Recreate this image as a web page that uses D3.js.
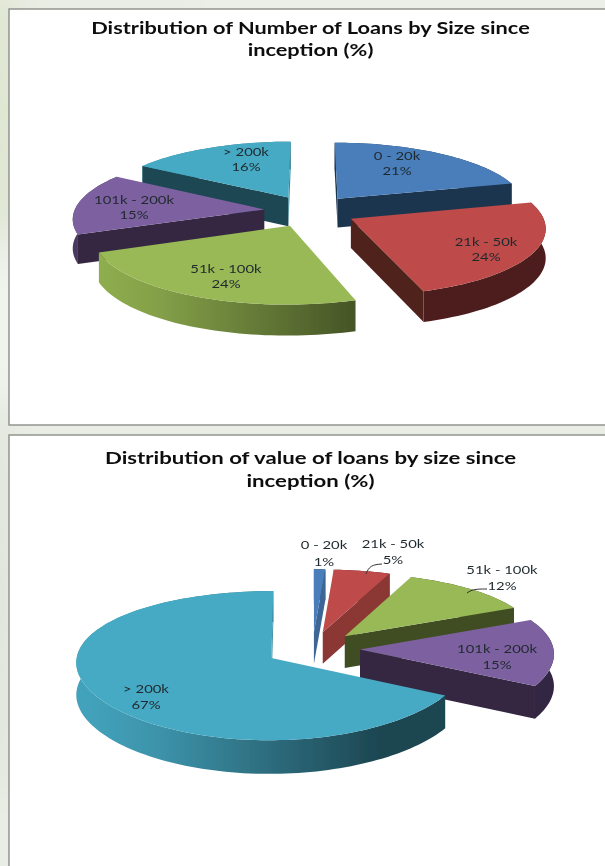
<!DOCTYPE html>
<html><head><meta charset="utf-8">
<script src="https://cdn.jsdelivr.net/npm/d3@7"></script>
<style>html,body{margin:0;padding:0;background:#e9ede5;overflow:hidden}svg{display:block}text{font-family:Lato,"Open Sans",sans-serif;fill:#1f2a2e}</style>
</head><body><svg id="c" width="605" height="866"></svg>
<script>
const categories1 = ["0 - 20k","21k - 50k","51k - 100k","101k - 200k","> 200k"];
const values1 = [21,24,24,15,16];
const categories2 = ["0 - 20k","21k - 50k","51k - 100k","101k - 200k","> 200k"];
const values2 = [1,5,12,15,67];
const sliceColors = ["#4a7ebb","#be4b48","#98b954","#7d60a0","#46aac5"];
const titles1 = ["Distribution of Number of Loans by Size since","inception (%)"];
const titles2 = ["Distribution of value of loans by size since","inception (%)"];

const layout1 = {id:"a",cx:310,cy:211,R:190,k:.345,p:.12,px:1,E:46,depth:29,rimGain:[1,1,1,.62,1],
  panel:[9,9,620,416],titleY:[34,56],titleX:310.5,titleSx:1.28,
  labels:[[397,160,175],[486,246,261],[226,273,288],[134,204,219],[246,156,171]],leaders:[]};
const layout2 = {id:"b",cx:312.5,cy:649,R:193.5,k:.372,p:.10,px:.5,E:47.5,depth:32,rimGain:[1,1,1,1,1],
  panel:[9,435,620,460],titleY:[464,487],titleX:310.5,titleSx:1.305,
  labels:[[324,549,566],[393,548,564],[502,574,590],[497,653,669],[146,693,709]],
  leaders:[[[366,574],[370,565],[382,564]],[[467,593],[473,589],[487,589]]]};

const svg = d3.select("#c");
const defs = svg.append("defs");
defs.append("filter").attr("id","soft").attr("x","-5%").attr("y","-5%").attr("width","110%").attr("height","110%")
  .append("feGaussianBlur").attr("stdDeviation",.55);
defs.append("filter").attr("id","softText").attr("x","-5%").attr("y","-5%").attr("width","110%").attr("height","110%")
  .append("feGaussianBlur").attr("stdDeviation",.32);
const bg = defs.append("filter").attr("id","bgblur");
bg.append("feGaussianBlur").attr("stdDeviation",14);
const bgG = svg.append("g").attr("filter","url(#bgblur)");
bgG.append("ellipse").attr("cx",0).attr("cy",110).attr("rx",26).attr("ry",130).attr("fill","#dfe6d2");
bgG.append("ellipse").attr("cx",0).attr("cy",330).attr("rx",20).attr("ry",80).attr("fill","#f3f5ef");
bgG.append("ellipse").attr("cx",0).attr("cy",600).attr("rx",20).attr("ry",200).attr("fill","#e2e5dc");
bgG.append("rect").attr("x",200).attr("y",-10).attr("width",420).attr("height",18).attr("fill","#f0f2ec");

const wallShade = d3.scaleLinear().domain([90,115,155,215]).range([.82,.72,.42,.42]).clamp(true);
const shade = (c,b)=>d3.interpolateRgb("#000",c)(b);

function chart(values,cats,titles,L,colors){
  const g = svg.append("g");
  g.append("rect").attr("x",L.panel[0]).attr("y",L.panel[1]).attr("width",L.panel[2]).attr("height",L.panel[3])
   .attr("fill","#fff").attr("stroke","#8b8d8a").attr("stroke-width",1.4);
  const inner = g.append("g").attr("filter","url(#soft)");
  const arcs = d3.pie().sort(null)(values).map((d,i)=>({...d,i,mid:(d.startAngle+d.endAngle)/2}));
  const P = (u,v,h)=>{
    const s=1/(1+L.p*v), sx=1/(1+L.p*L.px*v);
    return [L.cx+u*L.R*sx, L.cy-v*L.R*L.k*s+h*L.depth*(1+(s-1)*.4)];
  };
  const pt = (d,f,a,h)=>{const e=L.E/L.R;return P(e*Math.sin(d.mid)+f*Math.sin(a), e*Math.cos(d.mid)+f*Math.cos(a), h);};
  const line = d3.line();
  const samples = d=>{const n=Math.max(4,Math.ceil((d.endAngle-d.startAngle)/.03));
    return d3.range(n+1).map(j=>d.startAngle+(d.endAngle-d.startAngle)*j/n);};
  const order = d3.range(arcs.length).sort((a,b)=>Math.cos(arcs[b].mid)-Math.cos(arcs[a].mid));
  order.forEach(ix=>{
    const d=arcs[ix], col=colors[d.i], sg=inner.append("g"), gain=L.rimGain[d.i];
    const gid=`rim${L.id}${d.i}`;
    const lg=defs.append("linearGradient").attr("id",gid).attr("gradientUnits","userSpaceOnUse")
      .attr("x1",L.cx-L.R-30).attr("x2",L.cx+L.R*.35).attr("y1",0).attr("y2",0);
    lg.append("stop").attr("offset",0).attr("stop-color",shade(col,.95*gain));
    lg.append("stop").attr("offset",.25).attr("stop-color",shade(col,.86*gain));
    lg.append("stop").attr("offset",1).attr("stop-color",shade(col,.41));
    const as=samples(d);
    const rim=as.map(a=>pt(d,1,a,0)).concat(as.slice().reverse().map(a=>pt(d,1,a,1)));
    sg.append("path").attr("d",line(rim)+"Z").attr("fill",`url(#${gid})`);
    [[d.startAngle,-90],[d.endAngle,90]].forEach(([a,off])=>{
      const ndr=a+off*Math.PI/180;
      if(Math.cos(ndr)>1e-4) return;
      const nd=((ndr*180/Math.PI)%360+360)%360;
      sg.append("path").attr("d",line([pt(d,0,a,0),pt(d,1,a,0),pt(d,1,a,1),pt(d,0,a,1)])+"Z")
        .attr("fill",shade(col,wallShade(nd)));
    });
    sg.append("path").attr("d",line([pt(d,0,d.mid,0)].concat(as.map(a=>pt(d,1,a,0))))+"Z")
      .attr("fill",col);
  });
  const lineL = d3.line().curve(d3.curveBasis);
  L.leaders.forEach(l=>inner.append("path").attr("d",lineL(l)).attr("fill","none").attr("stroke","#333").attr("stroke-width",1));
  const tg = g.append("g").attr("filter","url(#softText)");
  const txt=(x,y,s,size,w,sx)=>tg.append("text").attr("transform",`translate(${x},${y}) scale(${sx},1)`)
    .attr("text-anchor","middle").attr("font-size",size).attr("font-weight",w).text(s);
  titles.forEach((t,i)=>txt(L.titleX,L.titleY[i],t,17,700,L.titleSx).style("fill","#111"));
  arcs.forEach(d=>{const [x,y1,y2]=L.labels[d.i];
    txt(x,y1,cats[d.i],11.8,400,1.26);
    txt(x,y2,d.value+"%",11.8,400,1.26);
  });
}
chart(values1,categories1,titles1,layout1,sliceColors);
chart(values2,categories2,titles2,layout2,sliceColors);
</script></body></html>
